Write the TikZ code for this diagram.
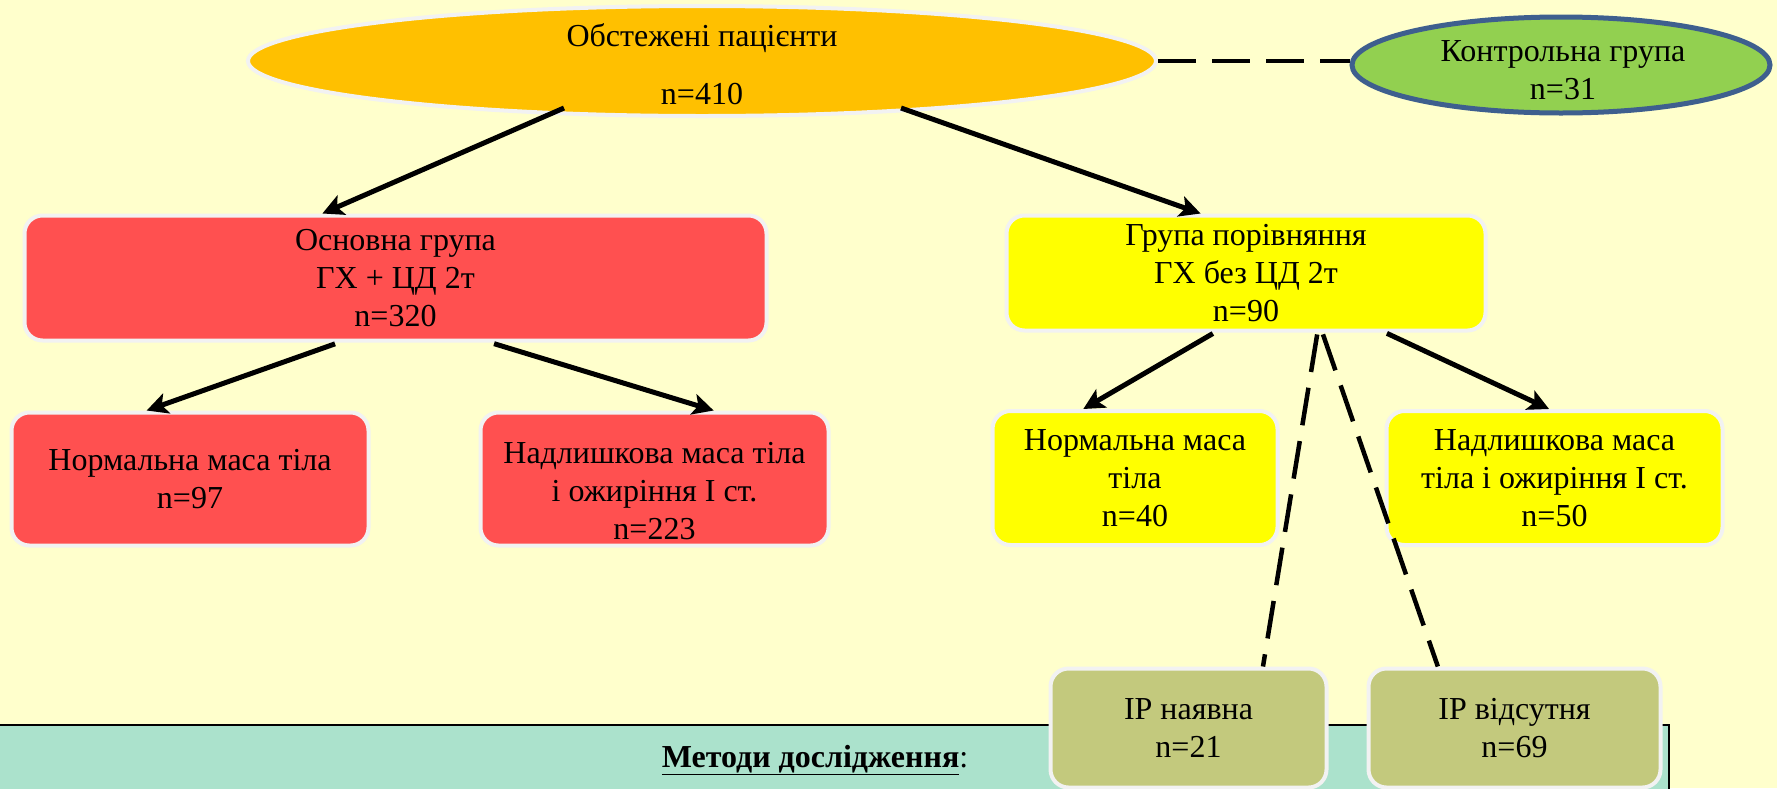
\documentclass[tikz,border=0pt]{standalone}
\usepackage{fontspec}
\setmainfont{Liberation Serif}
\usetikzlibrary{shapes.geometric,arrows.meta,calc}
\definecolor{bgc}{HTML}{FFFFCC}
\definecolor{orangec}{HTML}{FFC000}
\definecolor{greenc}{HTML}{92D050}
\definecolor{bluec}{HTML}{3E5F8E}
\definecolor{redc}{HTML}{FF5050}
\definecolor{yellowc}{HTML}{FFFF00}
\definecolor{olivec}{HTML}{C3C97D}
\definecolor{tealc}{HTML}{ABE2CC}
\definecolor{edgec}{HTML}{F2F2F2}
\begin{document}
\begin{tikzpicture}[x=1pt,y=-1pt,
  txt/.style={font=\fontsize{32}{38}\selectfont, align=center, inner sep=0pt},
  ell/.style={ellipse, draw=edgec, line width=4pt, inner sep=0pt},
  box/.style={rectangle, rounded corners=18pt, draw=edgec, line width=4pt, inner sep=0pt,
              font=\fontsize{32}{38}\selectfont, align=center},
  redbox/.style={box, fill=redc},
  yelbox/.style={box, fill=yellowc},
  olbox/.style={box, fill=olivec},
  arr/.style={line width=5pt, -{Stealth[length=21pt,width=21pt,inset=5pt]}},
  dsh/.style={line width=4.5pt, dash pattern=on 38pt off 16pt}
]
\fill[bgc] (0,0) rectangle (1777,788);
\useasboundingbox (0,0) rectangle (1777,788);

% methods band
\fill[tealc] (-5,725) rectangle (1669,800);
\draw[line width=2.5pt] (-5,725) -- (1669,725) -- (1669,800);
\node[font=\fontsize{32}{38}\selectfont, anchor=base, inner sep=0pt] (methtxt) at (815,767)
  {\underline{\textbf{Методи дослідження}}:};

% ellipses
\node[ell, fill=orangec, minimum width=908pt, minimum height=110pt] (top) at (702,61) {};
\node[txt] (toptxt) at (702,64) {Обстежені пацієнти\\[20pt]n=410};
\node[ell, fill=greenc, draw=bluec, line width=5pt, minimum width=418pt, minimum height=96pt] (ctrl) at (1561,65) {};
\node[txt] (ctrltxt) at (1563,70) {Контрольна група\\n=31};

% boxes
\node[redbox, minimum width=742pt, minimum height=125pt] (main) at (395.5,278) {Основна група\\ГХ + ЦД 2т\\n=320};
\node[yelbox, minimum width=479pt, minimum height=115pt] (comp) at (1246,273) {Група порівняння\\ГХ без ЦД 2т\\n=90};
\node[redbox, minimum width=357pt, minimum height=133pt] (lnorm) at (190,479) {Нормальна маса тіла\\n=97};
\node[redbox, minimum width=348pt, minimum height=133pt] (lover) at (654.5,479) {};
\node[txt] (lovertxt) at (654.5,491) {Надлишкова маса тіла\\і ожиріння І ст.\\n=223};
\node[yelbox, minimum width=285pt, minimum height=134pt] (rnorm) at (1135,478) {Нормальна маса\\тіла\\n=40};
\node[yelbox, minimum width=336pt, minimum height=134pt] (rover) at (1554.5,478) {Надлишкова маса\\тіла і ожиріння І ст.\\n=50};
\node[olbox, minimum width=276pt, minimum height=119pt] (ipyes) at (1188.5,728) {IP наявна\\n=21};
\node[olbox, minimum width=292pt, minimum height=119pt] (ipno) at (1514.5,728) {IP відсутня\\n=69};

% connectors
\draw[dsh] (top.east) -- (top.east -| ctrl.west);
\draw[arr] ($(top.center)+(-138,47)$) -- ($(main.north west)!0.402!(main.north east)$);
\draw[arr] ($(top.center)+(199,47)$) -- ($(comp.north west)!0.406!(comp.north east)$);
\draw[arr, shorten <=4pt] ($(main.south west)!0.424!(main.south east)$) -- ($(lnorm.north west)!0.38!(lnorm.north east)$);
\draw[arr, shorten <=4pt] ($(main.south west)!0.627!(main.south east)$) -- ($(lover.north west)!0.668!(lover.north east)$);
\draw[arr, shorten <=2pt] ($(comp.south west)!0.435!(comp.south east)$) -- ($(rnorm.north west)!0.321!(rnorm.north east)$);
\draw[arr, shorten <=2pt] ($(comp.south west)!0.788!(comp.south east)$) -- ($(rover.north west)!0.484!(rover.north east)$);
\draw[dsh, shorten <=2pt] ($(comp.south west)!0.648!(comp.south east)$) -- ($(ipyes.north west)!0.766!(ipyes.north east)$);
\draw[dsh, shorten <=2pt] ($(comp.south west)!0.658!(comp.south east)$) -- ($(ipno.north west)!0.241!(ipno.north east)$);
\end{tikzpicture}
\end{document}
